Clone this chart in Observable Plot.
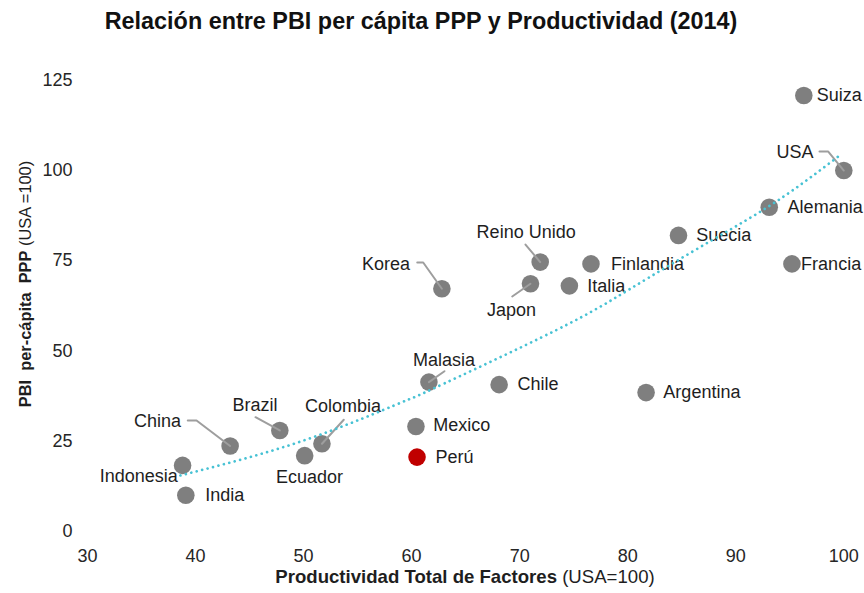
<!DOCTYPE html>
<html><head><meta charset="utf-8">
<script src="https://cdn.jsdelivr.net/npm/d3@7"></script>
<script src="https://cdn.jsdelivr.net/npm/@observablehq/plot@0.6"></script>
<style>
body{margin:0;background:#fff;}
svg text{white-space:pre;}
</style>
</head><body><div id="chart"></div>
<script>
// ---- data ----
const countries = ["Suiza","USA","Alemania","Francia","Suecia","Finlandia","Reino Unido","Italia","Japon","Korea","Malasia","Chile","Argentina","Mexico","Perú","Colombia","Ecuador","Brazil","China","Indonesia","India"];
const productividad = [96.3, 100, 93.1, 95.2, 84.7, 76.6, 71.9, 74.6, 71.0, 62.8, 61.6, 68.1, 81.7, 60.4, 60.5, 51.7, 50.1, 47.8, 43.2, 38.8, 39.1];
const pbi = [120.8, 100, 89.8, 74.1, 82.0, 74.1, 74.6, 68.0, 68.6, 67.2, 41.3, 40.6, 38.4, 29.0, 20.5, 24.2, 20.9, 27.9, 23.6, 18.2, 9.9];
const highlight = "Perú";

const xTicks = [30, 40, 50, 60, 70, 80, 90, 100];
const yTicks = [0, 25, 50, 75, 100, 125];

// trend line
const trendX = [38.6, 50.0, 59.0, 62.0, 73.3, 80.3, 87.7, 93.9, 99.85];
const trendY = [15.4, 25.1, 35.6, 39.5, 55.6, 67.3, 80.5, 91.7, 104.7];

// label placement (data units)
const labelX = [97.5, 97.2, 94.8, 96.05, 86.35, 78.45, 70.6, 76.25, 69.25, 59.85, 63.0, 69.8, 83.3, 62.0, 62.2, 53.65, 50.55, 45.5, 38.65, 34.75, 40.9];
const labelY = [120.8, 105.1, 89.8, 74.1, 82.0, 74.1, 82.9, 68.0, 61.2, 74.1, 47.5, 40.6, 38.4, 29.3, 20.5, 34.5, 14.9, 35.0, 30.5, 15.2, 9.9];
const labelAnchor = ["start","end","start","start","start","start","middle","start","middle","end","middle","start","start","start","start","middle","middle","middle","end","middle","start"];

// leader lines (start / bend points, data units); they end at the country point
const leaderCountry = ["Korea","Korea","Reino Unido","Japon","USA","USA","China","China","Brazil","Colombia","Malasia"];
const leaderX = [60.52, 61.07, 70.54, 69.31, 97.75, 98.56, 39.28, 40.09, 45.55, 53.72, 63.04];
const leaderY = [74.48, 74.48, 79.47, 65.05, 105.27, 105.27, 30.65, 30.65, 31.57, 30.85, 44.33];

// ---- build tables ----
const points = countries.map((c, i) => ({c, x: productividad[i], y: pbi[i]}));
const labels = countries.map((c, i) => ({c, x: labelX[i], y: labelY[i], a: labelAnchor[i]}));
const trend = trendX.map((x, i) => ({x, y: trendY[i]}));
const leaders = leaderCountry.map((c, i) => ({c, x: leaderX[i], y: leaderY[i]}));
[...new Set(leaderCountry)].forEach(c => {
  const i = countries.indexOf(c);
  leaders.push({c, x: productividad[i], y: pbi[i]});
});

const font = "'Liberation Sans', Arial, sans-serif";
const textColor = "#1e1e1e";

const plot = Plot.plot({
  width: 864,
  height: 593,
  marginLeft: 87,
  marginRight: 20.7,
  marginTop: 79.9,
  marginBottom: 62.5,
  style: {fontFamily: font, fontSize: "18px", background: "#fff", color: textColor},
  x: {domain: [30, 100]},
  y: {domain: [0, 125]},
  marks: [
    Plot.axisX({ticks: xTicks, tickSize: 0, tickPadding: 18, label: null, fill: "#262626"}),
    Plot.axisY({ticks: yTicks, tickSize: 0, tickPadding: 15, label: null, fill: "#262626"}),
    Plot.dot(points, {x: "x", y: "y", r: 8.8, fill: d => d.c === highlight ? "#c00000" : "#7f7f7f", stroke: "none"}),
    Plot.line(leaders, {x: "x", y: "y", z: "c", stroke: "#9e9e9e", strokeWidth: 2, curve: "linear"}),
    Plot.text(labels.filter(d => d.a === "start"), {x: "x", y: "y", text: "c", textAnchor: "start", fill: textColor}),
    Plot.text(labels.filter(d => d.a === "end"), {x: "x", y: "y", text: "c", textAnchor: "end", fill: textColor}),
    Plot.text(labels.filter(d => d.a === "middle"), {x: "x", y: "y", text: "c", textAnchor: "middle", fill: textColor}),
    Plot.line(trend, {x: "x", y: "y", stroke: "#48c2d4", strokeWidth: 2.7, strokeDasharray: "0.01 5.6", strokeLinecap: "round", curve: "natural"})
  ]
});

const svg = d3.select(plot);
svg.append("text")
  .attr("x", 421).attr("y", 29)
  .attr("text-anchor", "middle")
  .attr("font-weight", "bold").attr("font-size", 23.4)
  .attr("fill", "#111")
  .text("Relación entre PBI per cápita PPP y Productividad (2014)");

const xt = svg.append("text")
  .attr("x", 465).attr("y", 583)
  .attr("text-anchor", "middle").attr("font-size", 18.6).attr("fill", textColor);
xt.append("tspan").attr("font-weight", "bold").text("Productividad Total de Factores");
xt.append("tspan").text(" (USA=100)");

const yt = svg.append("text")
  .attr("transform", "translate(31,284) rotate(-90)")
  .attr("text-anchor", "middle").attr("font-size", 16.4).attr("fill", textColor);
yt.append("tspan").attr("font-weight", "bold").text("PBI  per-cápita  PPP");
yt.append("tspan").text(" (USA =100)");

document.getElementById("chart").appendChild(plot);
</script>
</body></html>
